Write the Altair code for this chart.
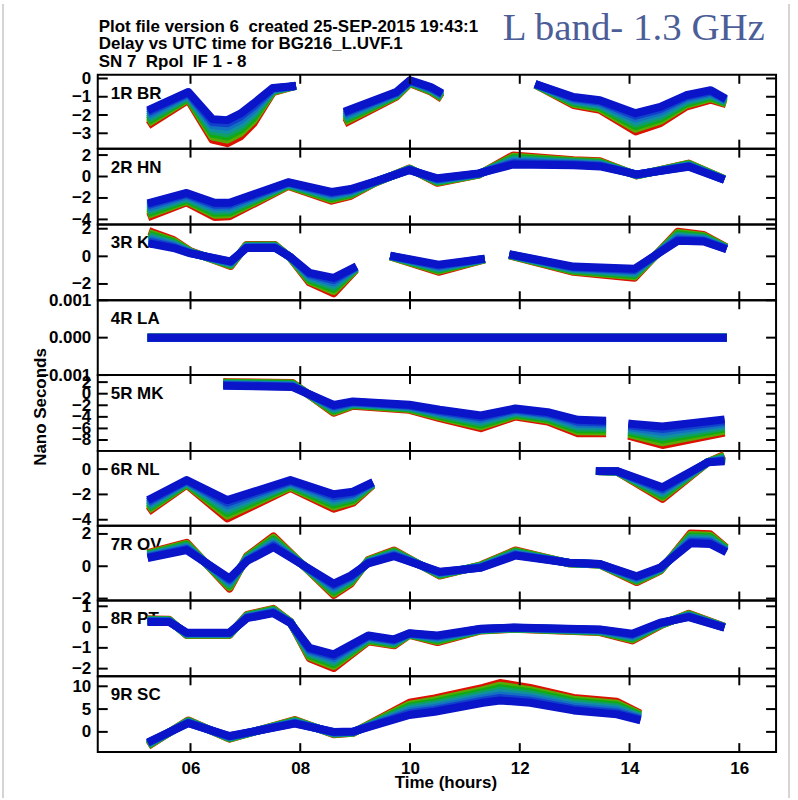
import altair as alt
import pandas as pd

FONT = "Liberation Sans"
NBSP = "\u00a0"

# shared time axis (UTC hours)
HOUR_DOMAIN = [4.31, 16.67]
HOUR_TICKS = [6, 8, 10, 12, 14, 16]

# the eight IFs, drawn red (IF 1) to blue (IF 8)
IF_NUMBERS = [1, 2, 3, 4, 5, 6, 7, 8]
IF_COLORS = ["#dd1100", "#5aa800", "#12aa12", "#10a062", "#1090a2", "#1470c2", "#1040cc", "#0a14c8"]
# relative place of each IF inside the IF 1 .. IF 8 spread
IF_SPREAD = [0.0, 0.15, 0.29, 0.43, 0.57, 0.71, 0.86, 1.0]

# ---- 1R BR ----
BR_DOMAIN = [-3.84, 0.2]
BR_TICKS = [0, -1, -2, -3]
BR_SEG = [1, 1, 1, 1, 1, 1, 1, 1, 2, 2, 2, 2, 2, 3, 3, 3, 3, 3, 3, 3, 3]
BR_HOURS = [5.29, 5.96, 6.40, 6.67, 6.91, 7.15, 7.50, 7.85, 8.87, 9.75, 10.00, 10.38, 10.52,
            12.35, 12.98, 13.46, 14.11, 14.56, 15.03, 15.48, 15.69]
BR_IF8 = [-1.65, -0.74, -2.23, -2.28, -1.92, -1.37, -0.52, -0.43, -1.74, -0.74, -0.10, -0.47, -0.70,
          -0.37, -1.01, -1.19, -1.90, -1.56, -0.92, -0.64, -1.00]
BR_IF1 = [-2.45, -1.17, -3.35, -3.54, -3.17, -2.45, -0.75, -0.45, -2.36, -1.00, -0.26, -0.72, -0.99,
          -0.45, -1.45, -1.72, -2.90, -2.45, -1.54, -1.16, -1.35]

# ---- 2R HN ----
HN_DOMAIN = [-4.47, 2.6]
HN_TICKS = [2, 0, -2, -4]
HN_SEG = [1] * 17
HN_HOURS = [5.29, 5.93, 6.44, 6.71, 7.78, 8.57, 8.92, 9.36, 9.99, 10.50, 11.25, 11.88, 12.98, 13.46,
            14.13, 15.08, 15.66]
HN_IF8 = [-2.40, -1.53, -2.44, -2.44, -0.53, -1.44, -1.17, -0.47, 0.60, -0.17, 0.29, 1.12, 1.06, 0.94,
          0.20, 0.91, -0.18]
HN_IF1 = [-3.66, -2.41, -3.77, -3.71, -0.89, -2.26, -1.80, -0.59, 0.75, -0.59, 0.17, 1.97, 1.52, 1.42,
          0.10, 1.21, -0.09]

# ---- 3R KP ----
KP_DOMAIN = [-3.18, 2.31]
KP_TICKS = [2, 0, -2]
KP_SEG = [1, 1, 1, 1, 1, 1, 1, 1, 1, 1, 2, 2, 2, 3, 3, 3, 3, 3, 3]
KP_HOURS = [5.31, 5.69, 6.00, 6.73, 7.02, 7.54, 7.82, 8.17, 8.61, 8.96, 9.71, 10.52, 11.29,
            11.88, 12.98, 14.09, 14.88, 15.35, 15.70]
KP_IF8 = [0.89, 0.60, 0.21, -0.36, 0.60, 0.61, -0.05, -1.20, -1.56, -0.85, 0.00, -0.60, -0.20,
          0.10, -0.74, -0.90, 1.12, 1.07, 0.60]
KP_IF1 = [1.73, 1.18, 0.36, -0.70, 0.82, 0.82, -0.10, -1.89, -2.68, -1.18, -0.10, -1.12, -0.30,
          0.00, -1.12, -1.55, 1.79, 1.55, 0.79]

# ---- 4R LA (reference antenna) ----
LA_DOMAIN = [-0.001, 0.001]
LA_TICKS = [0.001, 0.0, -0.001]
LA_SEG = [1, 1]
LA_HOURS = [5.29, 15.70]
LA_IF8 = [0.0, 0.0]
LA_IF1 = [0.0, 0.0]

# ---- 5R MK ----
MK_DOMAIN = [-9.88, 3.22]
MK_TICKS = [2, 0, -2, -4, -6, -8]
MK_SEG = [1, 1, 1, 1, 1, 1, 1, 1, 1, 1, 1, 2, 2, 2]
MK_HOURS = [6.67, 7.86, 8.61, 8.96, 9.99, 10.54, 11.29, 11.92, 12.51, 13.06, 13.50, 14.05, 14.60, 15.66]
MK_IF8 = [1.35, 1.16, -1.95, -1.33, -1.91, -2.78, -3.77, -2.55, -3.19, -4.52, -4.64, -5.22, -5.68, -4.52]
MK_IF1 = [2.00, 1.86, -3.30, -2.09, -2.78, -4.23, -5.97, -3.94, -4.81, -6.84, -6.84, -7.42, -8.87, -6.84]

# ---- 6R NL ----
NL_DOMAIN = [-4.47, 1.44]
NL_TICKS = [0, -2, -4]
NL_SEG = [1, 1, 1, 1, 1, 1, 1, 2, 2, 2, 2, 2]
NL_HOURS = [5.29, 5.93, 6.67, 7.82, 8.61, 8.96, 9.26, 13.46, 13.77, 14.60, 15.43, 15.66]
NL_IF8 = [-2.30, -0.86, -2.45, -0.86, -1.98, -1.78, -1.17, -0.16, -0.16, -1.44, 0.55, 0.60]
NL_IF1 = [-3.19, -1.23, -3.90, -1.49, -3.13, -2.66, -1.49, -0.16, -0.20, -2.35, 0.55, 0.99]

# ---- 7R OV ----
OV_DOMAIN = [-2.12, 2.51]
OV_TICKS = [2, 0, -2]
OV_SEG = [1] * 19
OV_HOURS = [5.29, 5.93, 6.71, 7.03, 7.51, 8.61, 8.92, 9.24, 9.71, 10.54, 11.29, 11.92, 12.90, 13.46,
            14.13, 14.56, 15.11, 15.47, 15.70]
OV_IF8 = [0.56, 1.00, -0.75, 0.32, 1.18, -1.08, -0.58, 0.18, 0.62, -0.34, -0.10, 0.66, 0.22, 0.14,
          -0.62, -0.08, 1.42, 1.38, 0.98]
OV_IF1 = [0.88, 1.45, -1.38, 0.62, 1.85, -1.78, -1.08, 0.38, 0.98, -0.58, 0.06, 0.98, 0.18, 0.10,
          -0.98, -0.28, 2.02, 1.98, 1.32]

# ---- 8R PT ----
PT_DOMAIN = [-2.37, 1.28]
PT_TICKS = [1, 0, -1, -2]
PT_SEG = [1] * 20
PT_HOURS = [5.29, 5.61, 5.93, 6.71, 7.03, 7.51, 7.82, 8.17, 8.61, 9.24, 9.71, 9.99, 10.50, 11.29,
            11.88, 13.46, 14.05, 14.56, 15.08, 15.66]
PT_IF8 = [0.25, 0.25, -0.27, -0.27, 0.43, 0.67, 0.20, -1.00, -1.31, -0.40, -0.59, -0.30, -0.40, -0.08,
          -0.02, -0.11, -0.32, 0.21, 0.48, 0.03]
PT_IF1 = [0.37, 0.35, -0.38, -0.38, 0.59, 0.88, 0.25, -1.50, -1.97, -0.69, -0.88, -0.37, -0.72, -0.16,
          -0.08, -0.24, -0.64, 0.08, 0.64, 0.08]

# ---- 9R SC ----
SC_DOMAIN = [-4.44, 12.19]
SC_TICKS = [10, 5, 0]
SC_SEG = [1] * 14
SC_HOURS = [5.29, 5.96, 6.71, 7.90, 8.61, 8.96, 9.99, 10.45, 11.33, 11.64, 12.19, 12.98, 13.77, 14.13]
SC_IF8 = [-1.90, 1.90, -0.90, 1.80, 0.00, 0.07, 3.70, 4.42, 6.38, 6.88, 6.38, 4.71, 3.84, 2.75]
SC_IF1 = [-2.60, 2.50, -1.50, 2.60, -0.50, -0.22, 6.38, 7.32, 9.64, 10.72, 9.64, 7.46, 6.59, 4.42]

# header lines keep their double spacing (non-breaking so SVG does not collapse it)
TITLE_LINES = [
    f"Plot file version 6 {NBSP}created 25-SEP-2015 19:43:1",
    "Delay vs UTC time for BG216_L.UVF.1",
    f"SN 7 {NBSP}Rpol {NBSP}IF 1 - 8",
]
BAND_NOTE = "L band- 1.3 GHz"

PANEL_WIDTH = 680
PANEL_HEIGHTS = [74, 76, 76, 75, 76, 75, 75, 76, 76]


def text_layer(txt, x, y, **kw):
    style = dict(font=FONT, fontSize=17, fontWeight="bold", color="black",
                 align="left", baseline="alphabetic")
    style.update(kw)
    return alt.Chart(pd.DataFrame({"t": [txt]})).mark_text(**style).encode(
        x=alt.value(x), y=alt.value(y), text="t:N")


def panel(label, domain, ticks, fmt, seg, hours, if1, if8, height, bottom=False, extra=()):
    df = pd.DataFrame({"seg": seg, "hour": hours, "if1": if1, "if8": if8})
    xscale = alt.Scale(domain=HOUR_DOMAIN, nice=False, zero=False)
    yscale = alt.Scale(domain=domain, nice=False, zero=False)
    yaxis = alt.Axis(values=ticks, format=fmt, title=None, ticks=False, domain=False, grid=False,
                     labelOverlap=False, labelFont=FONT, labelFontWeight="bold", labelFontSize=17,
                     labelColor="black", labelPadding=7, labelBaseline="middle")
    if bottom:
        xaxis = alt.Axis(values=HOUR_TICKS, format="02d", title=None, ticks=False, domain=False,
                         grid=False, labelFlush=False, labelOverlap=False, labelFont=FONT,
                         labelFontWeight="bold", labelFontSize=17, labelColor="black",
                         labelPadding=21, labelBaseline="alphabetic")
    else:
        xaxis = None
    X = alt.X("hour:Q", scale=xscale, axis=xaxis)

    layers = [text_layer(label, 13, 24)]
    for k, color, frac in zip(IF_NUMBERS, IF_COLORS, IF_SPREAD):
        layers.append(
            alt.Chart(df)
            .transform_calculate(delay=f"datum.if1 + (datum.if8 - datum.if1) * {frac}")
            .mark_line(color=color, strokeWidth=8, strokeCap="square", strokeJoin="round")
            .encode(x=X, y=alt.Y("delay:Q", scale=yscale, axis=yaxis), detail="seg:N")
        )

    xt = alt.Chart(pd.DataFrame({"hour": HOUR_TICKS}))
    yt = alt.Chart(pd.DataFrame({"delay": ticks}))
    Y = alt.Y("delay:Q", scale=yscale, axis=yaxis)
    rule = dict(color="black", strokeWidth=2)
    layers += [
        xt.mark_rule(**rule).encode(x=X, y=alt.value(0), y2=alt.value(9)),
        xt.mark_rule(**rule).encode(x=X, y=alt.value(height - 9), y2=alt.value(height)),
        yt.mark_rule(**rule).encode(y=Y, x=alt.value(0), x2=alt.value(10)),
        yt.mark_rule(**rule).encode(y=Y, x=alt.value(PANEL_WIDTH - 10), x2=alt.value(PANEL_WIDTH)),
    ]
    layers += list(extra)
    return alt.layer(*layers).properties(width=PANEL_WIDTH, height=height)


# page furniture hung on the first panel
one = pd.DataFrame({"a": [0]})
page = [
    alt.Chart(one).mark_rect(opacity=0).encode(
        x=alt.value(-97), x2=alt.value(701), y=alt.value(-73), y2=alt.value(727)),
    alt.Chart(one).mark_rule(color="#d4d4d4", strokeWidth=2).encode(
        x=alt.value(-95), y=alt.value(-71), y2=alt.value(725)),
    alt.Chart(one).mark_rule(color="#d4d4d4", strokeWidth=2).encode(
        x=alt.value(693), y=alt.value(-71), y2=alt.value(725)),
    text_layer(TITLE_LINES[0], 1, -43),
    text_layer(TITLE_LINES[1], 1, -26),
    text_layer(TITLE_LINES[2], 1, -8),
    text_layer(BAND_NOTE, 406, -35, font="Liberation Serif", fontSize=39, fontWeight="normal",
               color="#4c5e98"),
    text_layer("Nano Seconds", -52, 333, angle=270, align="center"),
]
time_title = [text_layer("Time (hours)", 349, 112, align="center")]

panels = [
    panel("1R BR", BR_DOMAIN, BR_TICKS, "d", BR_SEG, BR_HOURS, BR_IF1, BR_IF8, PANEL_HEIGHTS[0], extra=page),
    panel("2R HN", HN_DOMAIN, HN_TICKS, "d", HN_SEG, HN_HOURS, HN_IF1, HN_IF8, PANEL_HEIGHTS[1]),
    panel("3R KP", KP_DOMAIN, KP_TICKS, "d", KP_SEG, KP_HOURS, KP_IF1, KP_IF8, PANEL_HEIGHTS[2]),
    panel("4R LA", LA_DOMAIN, LA_TICKS, ".3f", LA_SEG, LA_HOURS, LA_IF1, LA_IF8, PANEL_HEIGHTS[3]),
    panel("5R MK", MK_DOMAIN, MK_TICKS, "d", MK_SEG, MK_HOURS, MK_IF1, MK_IF8, PANEL_HEIGHTS[4]),
    panel("6R NL", NL_DOMAIN, NL_TICKS, "d", NL_SEG, NL_HOURS, NL_IF1, NL_IF8, PANEL_HEIGHTS[5]),
    panel("7R OV", OV_DOMAIN, OV_TICKS, "d", OV_SEG, OV_HOURS, OV_IF1, OV_IF8, PANEL_HEIGHTS[6]),
    panel("8R PT", PT_DOMAIN, PT_TICKS, "d", PT_SEG, PT_HOURS, PT_IF1, PT_IF8, PANEL_HEIGHTS[7]),
    panel("9R SC", SC_DOMAIN, SC_TICKS, "d", SC_SEG, SC_HOURS, SC_IF1, SC_IF8, PANEL_HEIGHTS[8],
          bottom=True, extra=time_title),
]

chart = (
    alt.vconcat(*panels, spacing=0, bounds="flush")
    .properties(padding={"left": 0, "top": 0, "right": 0, "bottom": 0})
    .configure(background="white")
    .configure_view(stroke="black", strokeWidth=2)
)

chart.save("out.html", embed_options={"renderer": "svg", "actions": False})
